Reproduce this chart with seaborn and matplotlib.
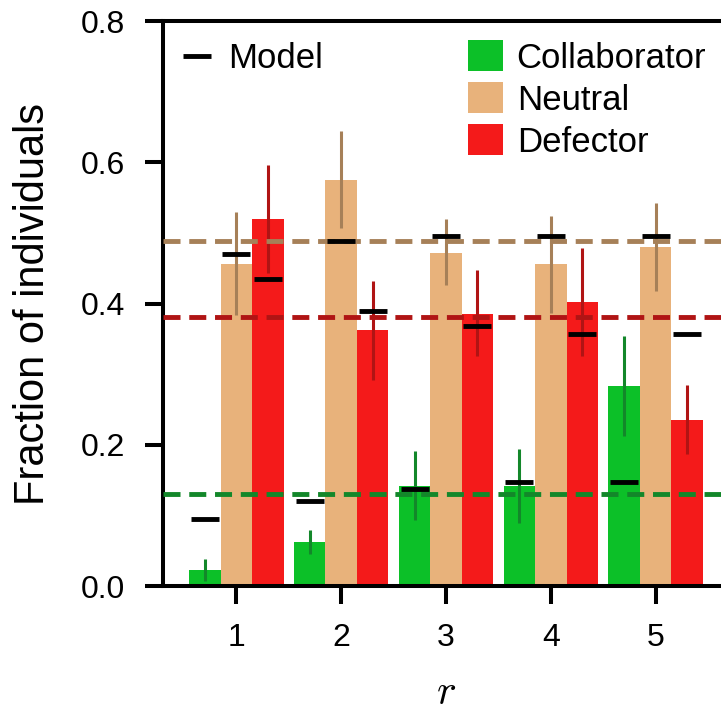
import numpy as np
import pandas as pd
import matplotlib
matplotlib.use("Agg")
import matplotlib.pyplot as plt
import seaborn as sns
from matplotlib.lines import Line2D
from matplotlib.patches import Patch

# ---------------- data ----------------
r_values = ["1", "2", "3", "4", "5"]
types = ["Collaborator", "Neutral", "Defector"]

collab = [0.0226, 0.0623, 0.1415, 0.1415, 0.283]
collab_lo = [0.0075, 0.045, 0.094, 0.089, 0.213]
collab_hi = [0.038, 0.080, 0.191, 0.1935, 0.354]

neutral = [0.456, 0.575, 0.471, 0.456, 0.480]
neutral_lo = [0.384, 0.507, 0.426, 0.387, 0.417]
neutral_hi = [0.530, 0.644, 0.519, 0.524, 0.542]

defect = [0.519, 0.362, 0.385, 0.402, 0.235]
defect_lo = [0.443, 0.292, 0.325, 0.325, 0.187]
defect_hi = [0.596, 0.432, 0.447, 0.479, 0.284]

model_collab = [0.095, 0.121, 0.137, 0.1467, 0.147]
model_neutral = [0.470, 0.489, 0.495, 0.496, 0.495]
model_defect = [0.4345, 0.390, 0.368, 0.357, 0.357]

mean_levels = [0.1306, 0.488, 0.381]  # collaborator, neutral, defector

bar_colors = ["#0CC028", "#E8B27B", "#F41A1A"]
dark_colors = ["#13872A", "#A68058", "#B01414"]

# ---------------- build table ----------------
values = [collab, neutral, defect]
lows = [collab_lo, neutral_lo, defect_lo]
highs = [collab_hi, neutral_hi, defect_hi]
models = [model_collab, model_neutral, model_defect]

rows = []
for t, vals in zip(types, values):
    for r, v in zip(r_values, vals):
        rows.append({"r": r, "type": t, "value": v})
df = pd.DataFrame(rows)

# ---------------- style ----------------
sns.set_style("ticks")
plt.rcParams["font.family"] = ["Liberation Sans", "DejaVu Sans"]
plt.rcParams["mathtext.fontset"] = "cm"
plt.rcParams["text.color"] = "black"
plt.rcParams["axes.labelcolor"] = "black"
plt.rcParams["xtick.color"] = "black"
plt.rcParams["ytick.color"] = "black"

fig = plt.figure(figsize=(7.21, 7.12), dpi=100)
ax = fig.add_axes([163 / 721, 126 / 712, 566 / 721, 565 / 712])

sns.barplot(data=df, x="r", y="value", hue="type", order=r_values,
            hue_order=types, palette=bar_colors, width=0.9, gap=0,
            errorbar=None, saturation=1, legend=False, linewidth=0,
            edgecolor="none", ax=ax)

# error bars, dashed mean lines, model markers
for i, cont in enumerate(ax.containers):
    xs = [b.get_x() + b.get_width() / 2 for b in cont]
    ax.vlines(xs, lows[i], highs[i], color=dark_colors[i], lw=2.2, zorder=3)
for i in range(3):
    ax.axhline(mean_levels[i], color=dark_colors[i], lw=3.5,
               linestyle=(0, (3.5, 1.8)), zorder=4)
for i, cont in enumerate(ax.containers):
    xs = [b.get_x() + b.get_width() / 2 for b in cont]
    ax.plot(xs, models[i], linestyle="none", marker="_", ms=20,
            mew=3.5, color="black", zorder=5)

ax.set_xlim(-0.7, 4.7)
ax.set_ylim(0, 0.8)
ax.set_yticks([0.0, 0.2, 0.4, 0.6, 0.8])
ax.set_yticklabels(["0.0", "0.2", "0.4", "0.6", "0.8"])

for s in ax.spines.values():
    s.set_linewidth(2.9)
    s.set_color("black")
ax.tick_params(axis="both", length=13, width=2.9, pad=14, labelsize=23,
               direction="out", color="black", labelcolor="black")

ax.set_xlabel("$r$", fontsize=30, labelpad=14)
ax.set_ylabel("Fraction of individuals", fontsize=30, labelpad=20)

# legends
model_handle = Line2D([], [], linestyle="none", marker="_", ms=20,
                      mew=3.5, color="black")
leg1 = ax.legend([model_handle], ["Model"], loc="upper left",
                 bbox_to_anchor=(0.035, 0.963), frameon=False, fontsize=25,
                 handlelength=0.8, handletextpad=0.5, borderpad=0,
                 borderaxespad=0)
ax.add_artist(leg1)
patch_handles = [Patch(facecolor=c, edgecolor="none") for c in bar_colors]
ax.legend(patch_handles, types, loc="upper left",
          bbox_to_anchor=(0.539, 0.966), frameon=False, fontsize=25,
          handlelength=1.0, handleheight=1.0, handletextpad=0.4,
          labelspacing=0.22, borderpad=0, borderaxespad=0)

fig.savefig("out.png", dpi=100)
